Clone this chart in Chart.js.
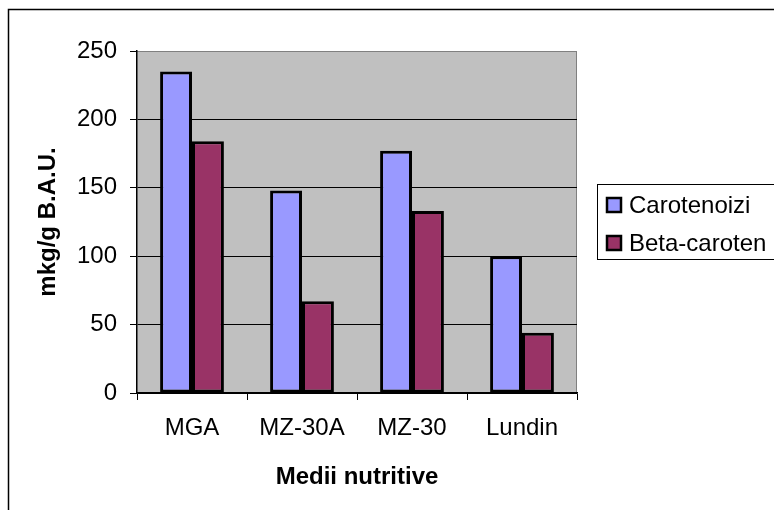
<!DOCTYPE html>
<html>

<head>
    <title>Medii nutritive</title>
    <meta charset="utf-8">
    <script src="https://cdn.jsdelivr.net/npm/chart.js"></script>
    <style>
        body { margin: 0; background: #fff; }
        canvas { display: block; }
    </style>
</head>

<body>
    <canvas id="chart" width="774" height="510"></canvas>
    <script>
        // values
        var categories = ['MGA', 'MZ-30A', 'MZ-30', 'Lundin']
        var carotenoizi = [235, 148, 177, 100]
        var betaCaroten = [184, 67, 133, 44]
        var seriesNames = ['Carotenoizi', 'Beta-caroten']
        var yTicks = [0, 50, 100, 150, 200, 250]

        var font = "'Liberation Sans', Arial, sans-serif"

        // grey plot area plus the outer frame
        var background = {
            id: 'background',
            beforeDraw: function (chart) {
                var ctx = chart.ctx
                var a = chart.chartArea
                ctx.save()
                ctx.fillStyle = '#c0c0c0'
                ctx.fillRect(a.left, a.top, a.right - a.left, a.bottom - a.top)
                ctx.strokeStyle = '#808080'
                ctx.lineWidth = 1
                ctx.beginPath()
                ctx.moveTo(a.left, a.top + 0.5)
                ctx.lineTo(a.right - 0.5, a.top + 0.5)
                ctx.lineTo(a.right - 0.5, a.bottom)
                ctx.stroke()
                ctx.strokeStyle = '#000'
                ctx.lineWidth = 1.5
                ctx.beginPath()
                ctx.moveTo(8.5, 510)
                ctx.lineTo(8.5, 9.5)
                ctx.lineTo(774, 9.5)
                ctx.stroke()
                ctx.restore()
            }
        }

        // legend box on the right, partly cut off like the original
        var sideLegend = {
            id: 'sideLegend',
            afterDraw: function (chart) {
                var ctx = chart.ctx
                ctx.save()
                ctx.strokeStyle = '#000'
                ctx.lineWidth = 1
                ctx.strokeRect(597.5, 184.5, 200, 75)
                ctx.font = '24px ' + font
                ctx.textBaseline = 'middle'
                var rows = [205, 243]
                chart.data.datasets.forEach(function (ds, i) {
                    var y = rows[i]
                    ctx.fillStyle = ds.backgroundColor
                    ctx.fillRect(607, y - 7, 14, 14)
                    ctx.lineWidth = 2.5
                    ctx.strokeStyle = '#000'
                    ctx.strokeRect(607, y - 7, 14, 14)
                    ctx.fillStyle = '#000'
                    ctx.fillText(ds.label, 629, y + 1)
                })
                ctx.restore()
            }
        }

        new Chart(document.getElementById('chart'), {
            type: 'bar',
            data: {
                labels: categories,
                datasets: [{
                    label: seriesNames[0],
                    data: carotenoizi,
                    backgroundColor: '#9999ff',
                    borderColor: '#000',
                    borderWidth: 3,
                    borderSkipped: false
                }, {
                    label: seriesNames[1],
                    data: betaCaroten,
                    backgroundColor: '#993366',
                    borderColor: '#000',
                    borderWidth: 3,
                    borderSkipped: false
                }]
            },
            plugins: [background, sideLegend],
            options: {
                responsive: false,
                animation: false,
                categoryPercentage: 0.58,
                barPercentage: 1,
                layout: {
                    padding: { left: 0, right: 197, top: 51, bottom: 0 }
                },
                plugins: {
                    legend: { display: false },
                    tooltip: { enabled: false }
                },
                scales: {
                    x: {
                        afterFit: function (scale) { scale.height = 117 },
                        grid: {
                            offset: true,
                            drawOnChartArea: false,
                            tickColor: '#000',
                            tickLength: 7
                        },
                        border: { color: '#000', width: 1.5 },
                        ticks: {
                            color: '#000',
                            padding: 14,
                            font: { family: font, size: 24 }
                        },
                        title: {
                            display: true,
                            text: 'Medii nutritive',
                            color: '#000',
                            padding: { top: 0, bottom: 18 },
                            font: { family: font, size: 24, weight: 'bold', lineHeight: 1.2 }
                        }
                    },
                    y: {
                        min: 0,
                        max: 250,
                        afterFit: function (scale) { scale.width = 137 },
                        afterBuildTicks: function (scale) {
                            scale.ticks = yTicks.map(function (v) { return { value: v } })
                        },
                        grid: {
                            color: function (c) { return c.tick && c.tick.value === 250 ? '#808080' : '#000' },
                            tickColor: '#000',
                            tickLength: 7,
                            lineWidth: 1
                        },
                        border: { color: '#000', width: 1.5 },
                        ticks: {
                            color: '#000',
                            padding: 13,
                            font: { family: font, size: 24 }
                        },
                        title: {
                            display: true,
                            text: 'mkg/g B.A.U.',
                            color: '#000',
                            padding: { top: 34, bottom: 0 },
                            font: { family: font, size: 24, weight: 'bold', lineHeight: 1.2 }
                        }
                    }
                }
            }
        });
    </script>
</body>

</html>
